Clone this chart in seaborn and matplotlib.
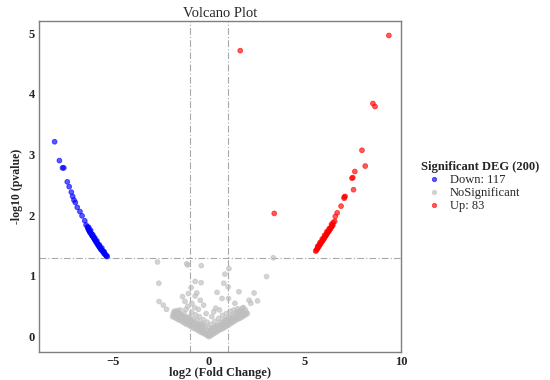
import pandas as pd
import matplotlib
matplotlib.use("Agg")
import matplotlib.pyplot as plt
import seaborn as sns

# down-regulated genes (blue)
down_x = [-8.04, -7.79, -7.63, -7.56, -7.38, -7.28, -7.17, -7.10, -7.03, -6.96,
          -6.86, -6.72, -6.61, -6.47, -6.40, -6.33,
          -6.30, -6.27, -6.25, -6.22, -6.20, -6.18, -6.15, -6.12, -6.10, -6.07,
          -6.04, -6.01, -5.98, -5.96, -5.93, -5.90, -5.88, -5.85, -5.82, -5.80,
          -5.77, -5.74, -5.72, -5.69, -5.66, -5.63, -5.60, -5.57, -5.54, -5.51,
          -5.48, -5.45, -5.42, -5.39, -5.36, -5.33, -5.30,
          -6.26, -6.16, -6.05, -5.95, -5.84, -5.70, -5.58, -5.46]
down_y = [3.21, 2.90, 2.78, 2.78, 2.55, 2.47, 2.38, 2.31, 2.25, 2.21,
          2.13, 2.06, 1.99, 1.91, 1.84, 1.81,
          1.78, 1.77, 1.75, 1.74, 1.72, 1.72, 1.70, 1.69, 1.67, 1.66,
          1.65, 1.63, 1.62, 1.60, 1.59, 1.58, 1.56, 1.55, 1.54, 1.52,
          1.51, 1.50, 1.48, 1.47, 1.46, 1.44, 1.43, 1.42, 1.41, 1.40,
          1.38, 1.37, 1.36, 1.35, 1.34, 1.33, 1.32,
          1.80, 1.75, 1.68, 1.63, 1.58, 1.51, 1.46, 1.40]

# up-regulated genes (red)
up_x = [1.63, 9.37, 8.54, 8.65, 7.97, 8.14, 7.60, 7.49, 7.45, 7.53,
        7.05, 7.09, 7.04, 6.88, 6.68, 3.40, 6.58, 6.47, 6.55,
        5.56, 5.59, 5.62, 5.65, 5.68, 5.71, 5.74, 5.77, 5.80, 5.83,
        5.86, 5.89, 5.92, 5.95, 5.98, 6.01, 6.04, 6.07, 6.10, 6.13,
        6.16, 6.19, 6.22, 6.25, 6.28, 6.31, 6.34, 6.37, 6.40, 6.43, 6.45,
        5.66, 5.78, 5.90, 6.02, 6.14, 6.26, 6.38]
up_y = [4.71, 4.96, 3.84, 3.79, 3.07, 2.81, 2.72, 2.62, 2.61, 2.42,
        2.30, 2.31, 2.28, 2.15, 2.04, 2.03, 1.98, 1.88, 1.90,
        1.41, 1.42, 1.44, 1.45, 1.47, 1.48, 1.50, 1.51, 1.53, 1.54,
        1.56, 1.57, 1.58, 1.60, 1.61, 1.63, 1.64, 1.66, 1.67, 1.69,
        1.70, 1.72, 1.73, 1.74, 1.76, 1.77, 1.79, 1.80, 1.82, 1.83, 1.84,
        1.49, 1.55, 1.61, 1.67, 1.73, 1.78, 1.85]

# not significant (grey)
ns_x = [-2.68, -1.16, -1.10, -0.40, 1.04, 0.83, 3.35, 3.00, -2.61, -0.72,
        -0.41, 0.77, 1.00, -0.93, 1.56, 0.42, 2.35, -1.38, -0.63, -1.07,
        -0.72, -2.60, -2.38, -2.21, 2.53, 2.09, 2.18, 1.74, 0.25, 0.68,
        1.02, -0.28, -0.89,
        -1.90, -1.85, -1.80, -1.75, -1.70, -1.65, -1.60, -1.55, -1.50, -1.45,
        -1.40, -1.35, -1.30, -1.25, -1.20, -1.15, -1.10, -1.05, -1.00, -0.95,
        -0.90, -0.85, -0.80, -0.75, -0.70, -0.65, -0.60, -0.55, -0.50, -0.45,
        -0.40, -0.35, -0.30, -0.25, -0.20, -0.15, -0.10, -0.05, 0.00, 0.05,
        0.10, 0.15, 0.20, 0.25, 0.30, 0.35, 0.40, 0.45, 0.50, 0.55,
        0.60, 0.65, 0.70, 0.75, 0.80, 0.85, 0.90, 0.95, 1.00, 1.05,
        1.10, 1.15, 1.20, 1.25, 1.30, 1.35, 1.40, 1.45, 1.50, 1.55,
        1.60, 1.65, 1.70, 1.75, 1.80, 1.85, 1.90, 1.95, 2.00,
        -1.80, -1.60, -1.50, -1.30, -1.20, -1.00, -0.90, -0.80, -0.70, -0.60,
        -0.50, -0.40, -0.30, -0.20, -0.10, 0.00, 0.10, 0.20, 0.30, 0.40,
        0.50, 0.60, 0.70, 0.80, 0.90, 1.00, 1.10, 1.20, 1.30, 1.40,
        1.50, 1.60, 1.80, -1.10, -0.55, 0.35, -0.15, 0.55, 1.35, -1.25,
        -0.45, 0.15, -0.75,
        -1.75, -1.55, -1.45, -1.35, -1.15, -1.05, -0.95, -0.85, -0.65, -0.45,
        -0.35, -0.25, -0.05, 0.05, 0.25, 0.45, 0.65, 0.75, 0.85, 0.95,
        1.15, 1.25, 1.45, 1.55, 1.70, 1.90, -1.65, -1.40, -0.60, 0.10,
        0.60, 1.10, -0.95, -0.35, 0.30, 0.95, 1.65, -1.85]
ns_y = [1.23, 1.20, 1.18, 1.17, 1.12, 1.03, 1.30, 0.99, 0.88, 0.91,
        0.89, 0.88, 0.82, 0.81, 0.74, 0.73, 0.72, 0.66, 0.72, 0.71,
        0.67, 0.58, 0.52, 0.45, 0.59, 0.60, 0.55, 0.47, 0.41, 0.63,
        0.63, 0.52, 0.55,
        0.33, 0.36, 0.32, 0.38, 0.30, 0.34, 0.28, 0.31, 0.27, 0.36,
        0.25, 0.29, 0.23, 0.31, 0.21, 0.26, 0.20, 0.24, 0.18, 0.22,
        0.16, 0.21, 0.14, 0.19, 0.13, 0.17, 0.11, 0.15, 0.09, 0.13,
        0.07, 0.11, 0.06, 0.09, 0.04, 0.06, 0.02, 0.03, 0.00, 0.02,
        0.02, 0.05, 0.04, 0.08, 0.06, 0.10, 0.08, 0.12, 0.10, 0.14,
        0.12, 0.16, 0.13, 0.18, 0.15, 0.20, 0.17, 0.22, 0.19, 0.24,
        0.21, 0.26, 0.23, 0.27, 0.25, 0.30, 0.27, 0.32, 0.29, 0.33,
        0.30, 0.35, 0.32, 0.36, 0.34, 0.38, 0.36, 0.40, 0.38,
        0.42, 0.40, 0.44, 0.38, 0.45, 0.33, 0.40, 0.29, 0.36, 0.27,
        0.33, 0.22, 0.28, 0.18, 0.24, 0.15, 0.20, 0.14, 0.25, 0.19,
        0.30, 0.24, 0.35, 0.28, 0.38, 0.31, 0.42, 0.36, 0.44, 0.40,
        0.46, 0.43, 0.48, 0.50, 0.45, 0.47, 0.38, 0.44, 0.55, 0.58,
        0.60, 0.33, 0.48,
        0.40, 0.37, 0.33, 0.34, 0.32, 0.30, 0.27, 0.25, 0.22, 0.18,
        0.16, 0.14, 0.10, 0.08, 0.14, 0.17, 0.20, 0.24, 0.26, 0.29,
        0.31, 0.33, 0.38, 0.40, 0.41, 0.44, 0.43, 0.31, 0.20, 0.11,
        0.19, 0.29, 0.27, 0.20, 0.16, 0.27, 0.39, 0.39]

groups = ["Down: 117", "NoSignificant", "Up: 83"]
colors = ["#0000FF", "#BEBEBE", "#FF0000"]

df = pd.concat([
    pd.DataFrame({"logFC": down_x, "logP": down_y, "group": groups[0]}),
    pd.DataFrame({"logFC": ns_x, "logP": ns_y, "group": groups[1]}),
    pd.DataFrame({"logFC": up_x, "logP": up_y, "group": groups[2]}),
])

sns.set_style("white")
plt.rcParams["font.family"] = ["Liberation Serif", "DejaVu Serif"]

fig = plt.figure(figsize=(5.5, 3.8), dpi=100)
ax = fig.add_axes([0.071, 0.074, 0.658, 0.871])

# threshold lines
dash = (0, (6, 2, 1, 2))
ax.axhline(1.3, color="#A8A8A8", lw=0.8, ls=dash, zorder=0)
ax.axvline(-1, color="#A8A8A8", lw=0.8, ls=dash, zorder=0)
ax.axvline(1, color="#A8A8A8", lw=0.8, ls=dash, zorder=0)

sns.scatterplot(data=df, x="logFC", y="logP", hue="group", hue_order=groups,
                palette=dict(zip(groups, colors)), s=12, alpha=0.65,
                linewidth=0.6, edgecolor="face", ax=ax, legend=True)

ax.set_xlim(-8.85, 10)
ax.set_ylim(-0.25, 5.2)
ax.set_xticks([-5, 0, 5, 10])
ax.set_yticks([0, 1, 2, 3, 4, 5])
ax.set_xticklabels(["\u22125", "0", "5", "10"])
for sp in ax.spines.values():
    sp.set_color("#7F7F7F")
    sp.set_linewidth(1.0)
ax.tick_params(length=2, width=0.8, color="#7F7F7F", labelsize=9, pad=1)
for lab in ax.get_xticklabels() + ax.get_yticklabels():
    lab.set_fontweight("bold")

ax.set_title("Volcano Plot", fontsize=10.5, pad=3)
ax.set_xlabel("log2 (Fold Change)", fontsize=9, fontweight="bold", labelpad=-1)
ax.set_ylabel("-log10 (pvalue)", fontsize=8.5, fontweight="bold", labelpad=4)

handles, labels = ax.get_legend_handles_labels()
ax.get_legend().remove()
leg = fig.legend(handles, labels, title="Significant DEG (200)",
                 loc="upper left", bbox_to_anchor=(0.75, 0.6),
                 frameon=False, fontsize=9, title_fontsize=9,
                 handletextpad=0.3, labelspacing=0.1, borderpad=0.2,
                 alignment="left", markerscale=0.9)
leg.get_title().set_fontweight("bold")

fig.savefig("out.png", dpi=100)
